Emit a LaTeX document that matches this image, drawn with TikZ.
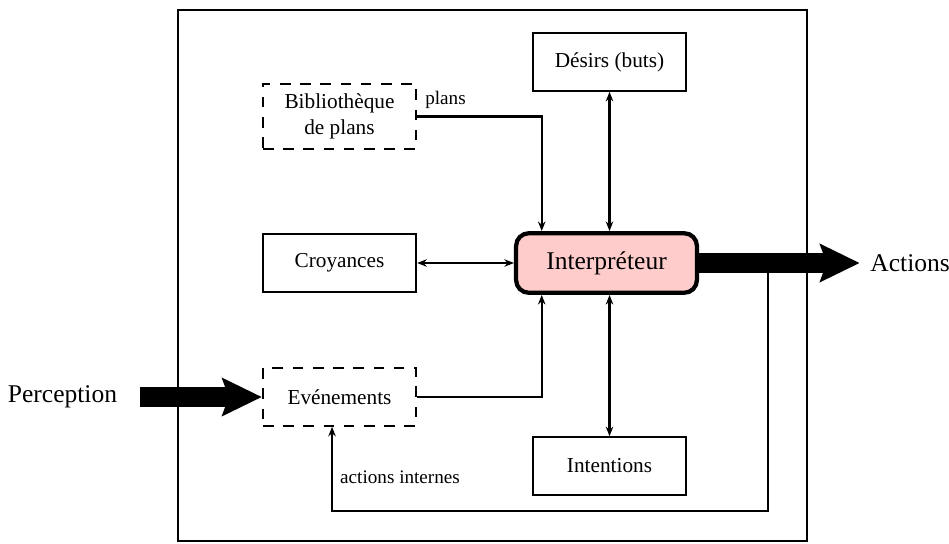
\documentclass[tikz,border=0pt]{standalone}
\usepackage{fontspec}
\setmainfont{Liberation Serif}
\usetikzlibrary{arrows.meta}
\usetikzlibrary{calc}
\usetikzlibrary{positioning}
\definecolor{interppink}{HTML}{FFCCCC}

\begin{document}
\begin{tikzpicture}
	[
	x=0.47pt, y=0.47pt,
	> = {Stealth[length=4.5pt,width=3.5pt]},
	box/.style = {draw, line width=1pt, minimum width=72pt, minimum height=27pt},
	dashbox/.style = {box, dash pattern=on 5pt off 4.5pt},
	core/.style = {draw, line width=2pt, rounded corners=6pt, fill=interppink, minimum width=85pt, minimum height=28pt, font=\large},
	conn/.style = {line width=1pt},
	bigarrow/.style = {line width=9pt, -{Stealth[length=18.5pt,width=17.5pt,inset=3pt]}}
	]
	\useasboundingbox (0,0) rectangle (949,543);
	\draw[line width=1.2pt] (178,2) rectangle (807,533);

	\node[box] (desirs) at (609.5,481) {Désirs (buts)};
	\node[dashbox, align=center, minimum height=30.5pt] (biblio) at (339.5,426.5) {Bibliothèque\\de plans};
	\node[box] (croy) at (339.5,280) {Croyances};
	\node[core] (interp) at (606.5,280) {Interpréteur};
	\node[dashbox] (evt) at (339.5,146) {Evénements};
	\node[box] (intent) at (609.5,77) {Intentions};

	\node[left=64.5pt of evt, font=\large] (perc) {Perception};
	\node[right=77pt of interp, font=\large] (act) {Actions};
	\coordinate (fb) at (768,280);

	\draw[conn,->] (biblio.east) node[above right, font=\small] {plans} -| ($(interp.north west)!0.15!(interp.north east)$);
	\draw[conn,<->] (desirs.south) -- (desirs.south |- interp.north);
	\draw[conn,<->] (croy) -- (interp);
	\draw[conn,->] (evt.east) -| ($(interp.south west)!0.15!(interp.south east)$);
	\draw[conn,<->] (intent.north) -- (intent.north |- interp.south);
	\draw[conn,->] (fb) -- ++(0,-248) -| node[pos=0.7, right, font=\small] {actions internes} ([xshift=-3.5pt]evt.south);

	\draw[bigarrow, shorten >=1.5pt] (interp.east) -- (act.west);
	\draw[bigarrow, shorten <=7pt] (perc.east) -- (evt.west);
\end{tikzpicture}
\end{document}
